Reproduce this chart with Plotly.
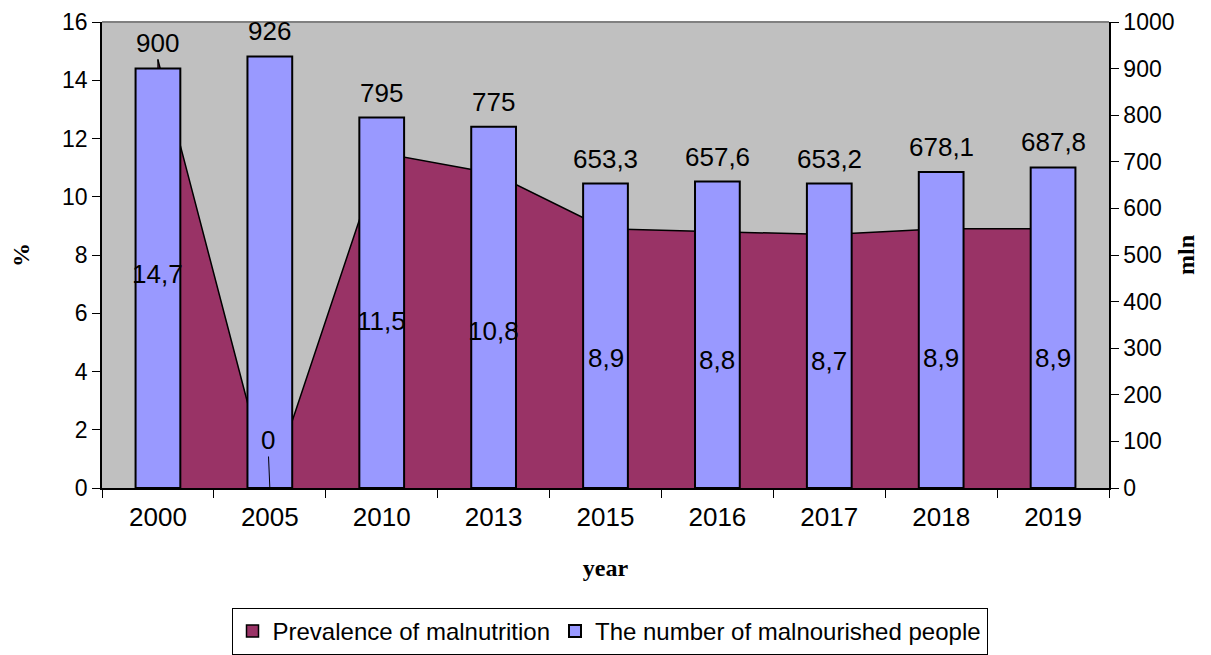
import plotly.graph_objects as go

years = ["2000", "2005", "2010", "2013", "2015", "2016", "2017", "2018", "2019"]
prevalence = [14.7, 0, 11.5, 10.8, 8.9, 8.8, 8.7, 8.9, 8.9]
malnourished = [900, 926, 795, 775, 653.3, 657.6, 653.2, 678.1, 687.8]

AREA_COLOR = "#993366"
BAR_COLOR = "#9999FF"
BG = "#C0C0C0"
FONT = "Liberation Sans, Arial, sans-serif"
SERIF = "Liberation Serif, Times New Roman, serif"
AREA_NAME = "Prevalence of malnutrition"
BAR_NAME = "The number of malnourished people"


def fmt(v):
    return f"{v:g}".replace(".", ",")


fig = go.Figure()
fig.add_trace(go.Scatter(
    x=years, y=prevalence, name=AREA_NAME, showlegend=False,
    mode="lines", fill="tozeroy", fillcolor=AREA_COLOR,
    line=dict(color="black", width=1.5), yaxis="y",
))
# legend-only entry so that the area series shows a square swatch
fig.add_trace(go.Bar(
    x=[None], y=[None], name=AREA_NAME, yaxis="y2",
    marker=dict(color=AREA_COLOR, line=dict(color="black", width=1.5)),
))
fig.add_trace(go.Bar(
    x=years, y=malnourished, name=BAR_NAME,
    marker=dict(color=BAR_COLOR, line=dict(color="black", width=2)),
    width=0.4, yaxis="y2",
))

LABEL_FONT = dict(family=FONT, size=26, color="black")
annotations = []
# bar value labels (x given as category index)
for i, (yr, v) in enumerate(zip(years, malnourished)):
    if yr == "2000":
        annotations.append(dict(x=i, y=v, xref="x", yref="y2", text=fmt(v),
                                showarrow=True, arrowhead=0, arrowwidth=1.2,
                                arrowcolor="black", ax=0, ay=-26,
                                font=LABEL_FONT))
    else:
        annotations.append(dict(x=i, y=v, xref="x", yref="y2", text=fmt(v),
                                showarrow=False, yshift=25, font=LABEL_FONT))
# area value labels at half height
for i, (yr, v) in enumerate(zip(years, prevalence)):
    if v == 0:
        annotations.append(dict(x=i, y=v, xref="x", yref="y", text=fmt(v),
                                showarrow=True, arrowhead=0, arrowwidth=1,
                                arrowcolor="black", ax=-2, ay=-48,
                                font=LABEL_FONT))
    else:
        annotations.append(dict(x=i, y=v / 2, xref="x", yref="y", text=fmt(v),
                                showarrow=False, font=LABEL_FONT))

fig.update_layout(
    width=1203, height=647,
    margin=dict(l=94, r=102, t=14, b=167),
    paper_bgcolor="white", plot_bgcolor=BG,
    font=dict(family=FONT, color="black"),
    showlegend=True, barmode="overlay",
    legend=dict(orientation="h", x=0.5, xanchor="center", xref="container",
                y=0.0, yanchor="bottom", yref="container",
                bordercolor="black", borderwidth=1, bgcolor="white",
                font=dict(family=FONT, size=24), itemwidth=30,
                traceorder="normal"),
    xaxis=dict(type="category", range=[-0.5, len(years) - 0.5], automargin=False,
               showgrid=False, showline=True, linecolor="black",
               linewidth=1.5, ticks="outside", tickson="boundaries", ticklen=8,
               tickcolor="black", tickfont=dict(size=26), tickangle=0,
               ticklabelstandoff=5,
               title=dict(text="<b>year</b>", font=dict(family=SERIF, size=24),
                          standoff=28)),
    yaxis=dict(range=[0, 16], dtick=2, showgrid=False, zeroline=False,
               automargin=False,
               showline=True, linecolor="black", linewidth=1.5,
               ticks="outside", ticklen=8, tickcolor="black",
               tickfont=dict(size=23),
               title=dict(text="<b>%</b>", font=dict(family=SERIF, size=24),
                          standoff=26)),
    yaxis2=dict(range=[0, 1000], dtick=100, overlaying="y", side="right",
                automargin=False,
                showgrid=False, zeroline=False, showline=True, linecolor="black",
                linewidth=1.5, ticks="outside", ticklen=8, tickcolor="black",
                tickfont=dict(size=23),
                title=dict(text="<b>mln</b>", font=dict(family=SERIF, size=24),
                           standoff=4)),
    annotations=annotations,
    shapes=[dict(type="line", xref="paper", yref="paper", x0=0, x1=1, y0=1, y1=1,
                 line=dict(color="#808080", width=2))],
)

fig.write_html("out.html")
